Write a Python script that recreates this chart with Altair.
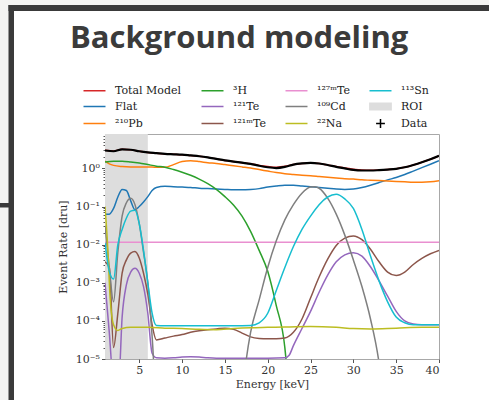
import altair as alt
import pandas as pd

# ---------------- values ----------------
# each series: (energy keV, log10 of event rate in dru)
total_model = [(1, 0.48), (2, 0.46), (3, 0.50), (4, 0.49), (5, 0.45), (6, 0.42), (7, 0.40),
               (8, 0.38), (9, 0.37), (10, 0.36), (11, 0.34), (12, 0.32), (13, 0.29), (14, 0.25),
               (15, 0.21), (16, 0.18), (17, 0.15), (18, 0.12), (19, 0.08), (20, 0.05), (21, 0.03),
               (22, 0.06), (23, 0.10), (24, 0.13), (25, 0.145), (26, 0.13), (27, 0.09), (28, 0.05),
               (29, 0.01), (30, -0.02), (31, -0.04), (32, -0.045), (33, -0.04), (34, -0.03),
               (35, -0.01), (36, 0.03), (37, 0.09), (38, 0.16), (39, 0.24), (40, 0.33)]
data_points = [(1, 0.47), (2, 0.45), (3, 0.50), (4, 0.49), (5, 0.45), (6, 0.42), (7, 0.40),
               (8, 0.38), (9, 0.37), (10, 0.36), (11, 0.34), (12, 0.32), (13, 0.29), (14, 0.25),
               (15, 0.21), (16, 0.18), (17, 0.15), (18, 0.12), (19, 0.07), (20, 0.03), (21, 0.01),
               (22, 0.04), (23, 0.10), (24, 0.13), (25, 0.145), (26, 0.13), (27, 0.09), (28, 0.04),
               (29, 0.00), (30, -0.04), (31, -0.055), (32, -0.055), (33, -0.045), (34, -0.03),
               (35, -0.01), (36, 0.03), (37, 0.09), (38, 0.16), (39, 0.24), (40, 0.33)]
flat = [(1, -1.2), (1.5, -1.2), (2, -1.05), (2.5, -0.75), (3, -0.55), (3.5, -0.58), (4, -0.85),
        (4.5, -1.08), (5, -1.0), (5.5, -0.88), (6, -0.74), (6.5, -0.58), (7, -0.5), (8, -0.47),
        (9, -0.48), (10, -0.49), (11, -0.5), (12, -0.52), (13, -0.53), (14, -0.54), (15, -0.55),
        (16, -0.56), (17, -0.56), (18, -0.55), (19, -0.53), (20, -0.49), (21, -0.46), (22, -0.44),
        (23, -0.44), (24, -0.46), (25, -0.48), (26, -0.5), (27, -0.52), (28, -0.54), (29, -0.55),
        (30, -0.54), (31, -0.5), (32, -0.44), (33, -0.37), (34, -0.3), (35, -0.24), (36, -0.16),
        (37, -0.07), (38, 0.02), (39, 0.11), (40, 0.2)]
pb210 = [(1, 0.19), (1.5, 0.12), (2, 0.08), (3, 0.05), (4, 0.04), (5, 0.04), (6, 0.04), (7, 0.03),
         (8, 0.03), (9, 0.10), (10, 0.18), (11, 0.20), (12, 0.18), (13, 0.15), (14, 0.13), (15, 0.10),
         (16, 0.07), (17, 0.04), (18, 0.01), (19, -0.03), (20, -0.07), (21, -0.11), (22, -0.14),
         (23, -0.16), (24, -0.18), (25, -0.19), (26, -0.21), (27, -0.23), (28, -0.25), (29, -0.27),
         (30, -0.28), (31, -0.30), (32, -0.31), (33, -0.32), (34, -0.33), (35, -0.34), (36, -0.35),
         (37, -0.36), (38, -0.36), (39, -0.35), (40, -0.32)]
h3 = [(1, 0.17), (2, 0.19), (3, 0.19), (4, 0.17), (5, 0.14), (6, 0.10), (7, 0.06), (8, 0.03),
      (9, -0.03), (10, -0.10), (11, -0.18), (12, -0.28), (13, -0.40), (14, -0.55), (15, -0.74),
      (16, -0.96), (17, -1.25), (18, -1.65), (19, -2.15), (20, -2.7), (21, -3.6), (22, -4.7),
      (22.5, -6.0)]
te121 = [(1, -3.0), (1.5, -4.3), (2, -5.6), (2.6, -5.6), (3, -3.9), (3.5, -3.05), (4, -2.72),
         (4.5, -2.62), (5, -2.75), (5.5, -3.1), (6, -3.8), (6.5, -4.85), (7, -4.97), (8, -4.98),
         (9, -4.97), (10, -4.95), (11, -4.94), (12, -4.95), (13, -4.97), (14, -4.98), (16, -4.98),
         (18, -4.98), (20, -4.98), (22, -4.97), (22.5, -4.9), (23, -4.65), (24, -4.2), (25, -3.75),
         (26, -3.25), (27, -2.8), (28, -2.45), (29, -2.27), (30, -2.21), (31, -2.3), (32, -2.58),
         (33, -2.95), (34, -3.35), (35, -3.75), (36, -4.0), (37, -4.08), (38, -4.1), (40, -4.1)]
te121m = [(1, -2.45), (1.5, -2.6), (2, -4.7), (2.5, -3.8), (3, -2.75), (3.5, -2.4), (4, -2.22),
          (4.5, -2.18), (5, -2.35), (5.5, -2.75), (6, -3.3), (6.5, -4.1), (7, -4.5), (8, -4.45),
          (9, -4.4), (10, -4.36), (11, -4.3), (12, -4.26), (13, -4.23), (14, -4.21), (15, -4.19),
          (16, -4.22), (17, -4.32), (18, -4.42), (19, -4.46), (20, -4.47), (21, -4.47), (22, -4.45),
          (23, -4.3), (24, -3.95), (25, -3.4), (26, -2.85), (27, -2.38), (28, -2.02), (29, -1.83),
          (30, -1.77), (31, -1.87), (32, -2.12), (33, -2.45), (34, -2.72), (35, -2.81), (36, -2.72),
          (37, -2.52), (38, -2.36), (39, -2.24), (40, -2.15)]
te127m = [(1, -1.94), (40, -1.94)]
cd109 = [(1, -1.5), (1.5, -2.6), (2, -3.5), (2.5, -2.2), (3, -1.25), (3.5, -0.9), (4, -0.78),
         (4.5, -0.95), (5, -1.45), (5.5, -2.2), (6, -3.0), (6.5, -4.4), (7, -6.0), (17, -6.0),
         (17.5, -5.0), (18, -4.3), (19, -3.45), (20, -2.6), (21, -1.9), (22, -1.35), (23, -0.95),
         (24, -0.65), (25, -0.49), (25.5, -0.48), (26, -0.52), (27, -0.78), (28, -1.2), (29, -1.75),
         (30, -2.4), (31, -3.1), (32, -3.95), (33, -5.1), (33.5, -6.0), (40, -6.0)]
na22 = [(1, -1.0), (1.3, -2.0), (1.6, -3.4), (2, -4.1), (2.5, -4.25), (3, -4.2), (4, -4.17),
        (5, -4.17), (6, -4.17), (8, -4.19), (10, -4.2), (12, -4.22), (14, -4.23), (16, -4.2),
        (18, -4.18), (20, -4.17), (22, -4.16), (25, -4.15), (28, -4.17), (30, -4.2), (32, -4.21),
        (35, -4.19), (38, -4.17), (40, -4.17)]
sn113 = [(1, -1.95), (1.5, -2.7), (2, -2.9), (2.5, -2.0), (3, -1.6), (3.5, -1.3), (4, -1.12),
         (4.5, -1.1), (5, -1.45), (5.5, -2.15), (6, -3.0), (6.5, -3.8), (7, -4.12), (8, -4.13),
         (10, -4.13), (12, -4.13), (14, -4.13), (16, -4.13), (18, -4.12), (19, -4.05), (20, -3.8),
         (21, -3.2), (22, -2.6), (23, -2.05), (24, -1.6), (25, -1.25), (26, -0.95), (27, -0.75),
         (28, -0.68), (29, -0.8), (30, -1.05), (31, -1.6), (32, -2.3), (33, -2.95), (34, -3.5),
         (35, -3.9), (36, -4.05), (37, -4.1), (40, -4.1)]
roi_start = [1]
roi_end = [6]

# legend (row-major order, 4 columns)
legend_names = ["Total Model", "³H", "¹²⁷ᵐTe", "¹¹³Sn",
                "Flat", "¹²¹Te", "¹⁰⁹Cd", "ROI",
                "²¹⁰Pb", "¹²¹ᵐTe", "²²Na", "Data"]
legend_colors = ["#d62728", "#2ca02c", "#e98fd0", "#17becf",
                 "#1f77b4", "#9467bd", "#7f7f7f", "#dddddd",
                 "#ff7f0e", "#8c564b", "#bcbd22", "#000000"]
x_tick_values = [5, 10, 15, 20, 25, 30, 35, 40]
y_tick_values = [1e-5, 1e-4, 1e-3, 1e-2, 1e-1, 1]
y_tick_labels = ["10⁻⁵", "10⁻⁴", "10⁻³", "10⁻²", "10⁻¹", "10⁰"]
title_text = "Background modeling"

# ---------------- tables ----------------
def rows(name, pts):
    return [{"E": e, "rate": 10 ** v, "series": name} for e, v in pts]

comp = []
for name, pts in [("Flat", flat), ("²¹⁰Pb", pb210), ("³H", h3), ("¹²¹Te", te121),
                  ("¹²¹ᵐTe", te121m), ("¹²⁷ᵐTe", te127m), ("¹⁰⁹Cd", cd109),
                  ("²²Na", na22), ("¹¹³Sn", sn113)]:
    comp += rows(name, pts)
comp_df = pd.DataFrame(comp)
total_df = pd.DataFrame(rows("Total Model", total_model))
data_df = pd.DataFrame(rows("Data", data_points))
roi_df = pd.DataFrame({"x0": roi_start, "x1": roi_end})
one = pd.DataFrame({"k": [0]})

W, H = 334, 225

minor = [m * 10 ** k for k in range(-5, 1) for m in range(2, 10) if m * 10 ** k < 8]
major_test = "abs(log(datum.value)/LN10 - round(log(datum.value)/LN10)) < 0.001"
lab_arr = "[" + ",".join("'%s'" % s for s in y_tick_labels) + "]"
y_label_expr = f"{major_test} ? {lab_arr}[round(log(datum.value)/LN10)+5] : ''"

xs = alt.Scale(domain=[1, 40], nice=False, zero=False)
ys = alt.Scale(type="log", domain=[1e-5, 8], nice=False)
cs = alt.Scale(domain=legend_names, range=legend_colors)

x_axis = alt.Axis(values=x_tick_values, title="Energy [keV]", tickSize=3.5, labelPadding=2,
                  titlePadding=3, grid=False)
y_axis = alt.Axis(values=y_tick_values + minor, title="Event Rate [dru]", labelExpr=y_label_expr,
                  tickSize={"condition": {"test": major_test, "value": 3.5}, "value": 2},
                  labelPadding=2, titlePadding=7, grid=False)

sym_expr = ("datum.value === 'ROI' ? 'M-1.45,-0.45H1.45V0.45H-1.45Z' : "
            "(datum.value === 'Data' ? 'M-0.6,0H0.6M0,-0.6V0.6' : 'M-1.5,0H1.5')")
fill_expr = "datum.value === 'ROI' ? '#dddddd' : 'transparent'"

legend = alt.Legend(title=None, orient="none", legendX=-19, legendY=-52, columns=4,
                    direction="horizontal", gridAlign="each", columnPadding=16, rowPadding=2,
                    labelFont="DejaVu Serif", labelFontSize=11, labelColor="#222222",
                    labelOffset=12, symbolSize=215, symbolStrokeWidth=1.5,
                    symbolType={"expr": sym_expr}, symbolFillColor={"expr": fill_expr},
                    padding=0, offset=0)

color = alt.Color("series:N", scale=cs, legend=legend)

# decorations of the slide (grey margin, dark frame)
margin_left = alt.Chart(one).mark_rect(color="#f4f4f2").encode(
    x=alt.value(-110), x2=alt.value(-96), y=alt.value(-140), y2=alt.value(280))
margin_top = alt.Chart(one).mark_rect(color="#f4f4f2").encode(
    x=alt.value(-110), x2=alt.value(400), y=alt.value(-140), y2=alt.value(-129))
border_left = alt.Chart(one).mark_rect(color="#3a3a3a").encode(
    x=alt.value(-96.5), x2=alt.value(-91), y=alt.value(-129), y2=alt.value(280))
border_top = alt.Chart(one).mark_rect(color="#3a3a3a").encode(
    x=alt.value(-96.5), x2=alt.value(400), y=alt.value(-129), y2=alt.value(-123))
border_tick = alt.Chart(one).mark_rect(color="#3a3a3a").encode(
    x=alt.value(-110), x2=alt.value(-96), y=alt.value(69), y2=alt.value(73.5))
title = alt.Chart(one).mark_text(text=title_text, font="Open Sans", fontSize=31,
                                 fontWeight="bold", color="#3b3b3b", align="left",
                                 baseline="alphabetic").encode(
    x=alt.value(-35), y=alt.value(-86))

roi = alt.Chart(roi_df).mark_rect(color="#dddddd").encode(
    x=alt.X("x0:Q", scale=xs, axis=x_axis), x2="x1:Q")

lines = alt.Chart(comp_df).mark_line(strokeWidth=1.5, clip=True, interpolate="monotone").encode(
    x=alt.X("E:Q", scale=xs, axis=x_axis),
    y=alt.Y("rate:Q", scale=ys, axis=y_axis),
    color=color)
total = alt.Chart(total_df).mark_line(strokeWidth=1.5, clip=True, interpolate="monotone").encode(
    x=alt.X("E:Q", scale=xs, axis=x_axis),
    y=alt.Y("rate:Q", scale=ys, axis=y_axis),
    color=color)
data = alt.Chart(data_df).mark_line(strokeWidth=2.2, clip=True, interpolate="monotone").encode(
    x=alt.X("E:Q", scale=xs, axis=x_axis),
    y=alt.Y("rate:Q", scale=ys, axis=y_axis),
    color=color)

chart = alt.layer(margin_left, margin_top, border_left, border_top, border_tick, title,
                  roi, total, lines, data).properties(
    width=W, height=H, autosize="none",
    padding={"left": 105, "top": 134, "right": 50, "bottom": 41},
    background="white",
).configure_view(stroke="#a8a8a8", strokeWidth=1, fill="white").configure_axis(
    labelFont="DejaVu Serif", labelFontSize=11, labelColor="#333333",
    titleFont="DejaVu Serif", titleFontSize=11, titleFontWeight="normal", titleColor="#333333",
    tickColor="#555555", domain=False, zindex=1)

chart.save("out.html", embed_options={"renderer": "svg", "actions": False})
